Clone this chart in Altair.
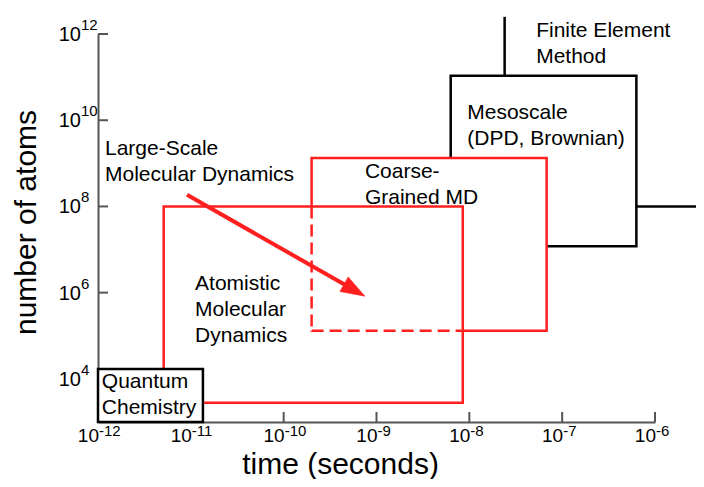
import altair as alt
import pandas as pd

# ---------------- data ----------------
x_ticks = [1e-12, 1e-11, 1e-10, 1e-9, 1e-8, 1e-7, 1e-6]
x_exps = ["-12", "-11", "-10", "-9", "-8", "-7", "-6"]
y_ticks = [1e4, 1e6, 1e8, 1e10, 1e12]
y_exps = ["4", "6", "8", "10", "12"]

# method regions (time range, atom-count range)
box_names = ["Mesoscale", "Coarse-Grained MD", "Atomistic MD", "Quantum Chemistry"]
box_t0 = [6.3e-9, 2.0e-10, 5.1e-12, 1e-12]
box_t1 = [6.3e-7, 6.8e-8, 8.5e-9, 1.35e-11]
box_n0 = [1.2e7, 1.3e5, 2.8e3, 1e3]
box_n1 = [1.07e11, 1.33e9, 1e8, 1.7e4]

# Finite element method connector lines
fem_t = [2.4e-8, 6.3e-7]
fem_t2 = [2.4e-8, 3.4e-6]
fem_n = [1.07e11, 1e8]
fem_n2 = [2.5e12, 1e8]

# Large-scale MD arrow
arrow_t = [9.1e-12, 7.5e-10]
arrow_n = [1.86e8, 8.3e5]

# annotation labels (left edge, first baseline)
label_text = ["Finite Element\nMethod", "Mesoscale\n(DPD, Brownian)", "Coarse-\nGrained MD",
              "Large-Scale\nMolecular Dynamics", "Atomistic\nMolecular\nDynamics", "Quantum\nChemistry"]
label_t = [5.25e-8, 9.5e-9, 7.5e-10, 1.19e-12, 1.11e-11, 1.1e-12]
label_n = [8.5e11, 1.07e10, 4.6e8, 1.57e9, 1.15e6, 6.2e3]

# ---------------- styling ----------------
FONT = "Liberation Sans"
RED = "#ff1f1f"
AXC = "#555555"
W, H = 557, 388

xs = alt.Scale(type="log", domain=[1e-12, 1e-6], nice=False)
ys = alt.Scale(type="log", domain=[1e3, 1e12], nice=False)

xaxis = alt.Axis(labels=False, ticks=False, grid=False, domainColor=AXC, domainWidth=2,
                 domainOpacity=1,
                 title="time (seconds)", titleFont=FONT, titleFontSize=30, titleFontWeight="normal",
                 titleColor="black", titleX=242, titleY=51, titleAlign="center",
                 titleBaseline="alphabetic", titleAnchor="middle")
yaxis = alt.Axis(labels=False, ticks=False, grid=False, domainColor=AXC, domainWidth=2,
                 domainOpacity=1,
                 title="number of atoms", titleFont=FONT, titleFontSize=30, titleFontWeight="normal",
                 titleColor="black", titleAngle=270, titleX=-63, titleY=188, titleAlign="center",
                 titleBaseline="alphabetic", titleAnchor="middle")


def X(f):
    return alt.X(f, type="quantitative", scale=xs, axis=xaxis)


def Y(f):
    return alt.Y(f, type="quantitative", scale=ys, axis=yaxis)


boxes = pd.DataFrame({"name": box_names, "t0": box_t0, "t1": box_t1, "n0": box_n0, "n1": box_n1})
meso = boxes[boxes.name == "Mesoscale"]
cg = boxes[boxes.name == "Coarse-Grained MD"]
atom = boxes[boxes.name == "Atomistic MD"]
qc = boxes[boxes.name == "Quantum Chemistry"]

cg_t0, cg_n0 = float(cg.t0.iloc[0]), float(cg.n0.iloc[0])
at_t1, at_n1 = float(atom.t1.iloc[0]), float(atom.n1.iloc[0])
dashed = pd.DataFrame({"t": [cg_t0, cg_t0], "t2": [cg_t0, at_t1],
                       "n": [at_n1, cg_n0], "n2": [cg_n0, cg_n0]})

xt = pd.DataFrame({"v": x_ticks, "e": x_exps})
yt = pd.DataFrame({"v": y_ticks, "e": y_exps})

# ticks (inward)
xtick = alt.Chart(xt).mark_rule(color=AXC, strokeWidth=2).encode(
    x=X("v"), y=alt.value(H - 10), y2=alt.value(H))
ytick = alt.Chart(yt).mark_rule(color=AXC, strokeWidth=2).encode(
    y=Y("v"), x=alt.value(0), x2=alt.value(10))

# tick labels 10^n
xlab10 = alt.Chart(xt).mark_text(align="right", baseline="alphabetic", dx=1, font=FONT,
                                 fontSize=19, color="black").encode(
    x=X("v"), y=alt.value(H + 19.5), text=alt.value("10"))
xlabe = alt.Chart(xt).mark_text(align="left", baseline="middle", dx=1, font=FONT,
                                fontSize=15, color="black").encode(
    x=X("v"), y=alt.value(H + 9), text="e:N")
ylab10 = alt.Chart(yt).mark_text(align="right", baseline="middle", dy=1, font=FONT,
                                 fontSize=20, color="black").encode(
    y=Y("v"), x=alt.value(-17), text=alt.value("10"))
ylabe = alt.Chart(yt).mark_text(align="left", baseline="middle", dy=-9, font=FONT,
                                fontSize=15, color="black").encode(
    y=Y("v"), x=alt.value(-17), text="e:N")


def rect(df, stroke, fill=True):
    kw = dict(stroke=stroke, strokeWidth=2.5, strokeJoin="miter", fill="white")
    if not fill:
        kw.update(fillOpacity=0)
    return alt.Chart(df).mark_rect(**kw).encode(x=X("t0"), x2="t1", y=Y("n0"), y2="n1")


meso_r = rect(meso, "black")
cg_r = rect(cg, RED)
erase = alt.Chart(dashed).mark_rule(color="white", strokeWidth=4.5).encode(
    x=X("t"), x2="t2", y=Y("n"), y2="n2")
dash = alt.Chart(dashed).mark_rule(color=RED, strokeWidth=2.5, strokeDash=[12, 6]).encode(
    x=X("t"), x2="t2", y=Y("n"), y2="n2")
atom_r = rect(atom, RED, fill=False)
qc_r = rect(qc, "black")

fem = alt.Chart(pd.DataFrame({"t": fem_t, "t2": fem_t2, "n": fem_n, "n2": fem_n2})).mark_rule(
    color="black", strokeWidth=2.5).encode(x=X("t"), x2="t2", y=Y("n"), y2="n2")

# arrow: shaft ends a little before the tip, head drawn as a rotated triangle at the tip
frac = 0.9
shaft_end_t = arrow_t[0] * (arrow_t[1] / arrow_t[0]) ** frac
shaft_end_n = arrow_n[0] * (arrow_n[1] / arrow_n[0]) ** frac
shaft = alt.Chart(pd.DataFrame({"t": [arrow_t[0]], "t2": [shaft_end_t],
                                "n": [arrow_n[0]], "n2": [shaft_end_n]})).mark_rule(
    color=RED, strokeWidth=4).encode(x=X("t"), x2="t2", y=Y("n"), y2="n2")
head = alt.Chart(pd.DataFrame({"t": [arrow_t[1]], "n": [arrow_n[1]]})).mark_point(
    shape="M0,0L-2,-0.7L-2,0.7Z", filled=True, fill=RED, stroke=RED, strokeWidth=0.5,
    opacity=1, size=576, angle=29.7).encode(x=X("t"), y=Y("n"))

labels = alt.Chart(pd.DataFrame({"txt": label_text, "t": label_t, "n": label_n})).mark_text(
    align="left", baseline="alphabetic", lineBreak="\n", lineHeight=26, font=FONT,
    fontSize=21, color="black").encode(x=X("t"), y=Y("n"), text="txt:N")

chart = alt.layer(
    xtick, ytick, meso_r, cg_r, erase, dash, atom_r, qc_r, fem, shaft, head,
    labels, xlab10, xlabe, ylab10, ylabe
).properties(
    width=W, height=H,
    autosize=alt.AutoSizeParams(type="none"),
    padding={"left": 90, "top": 26, "right": 41, "bottom": 57},
).configure(background="white").configure_view(stroke=None, strokeWidth=0)

chart.save("out.html", embed_options={"renderer": "svg", "actions": False})
